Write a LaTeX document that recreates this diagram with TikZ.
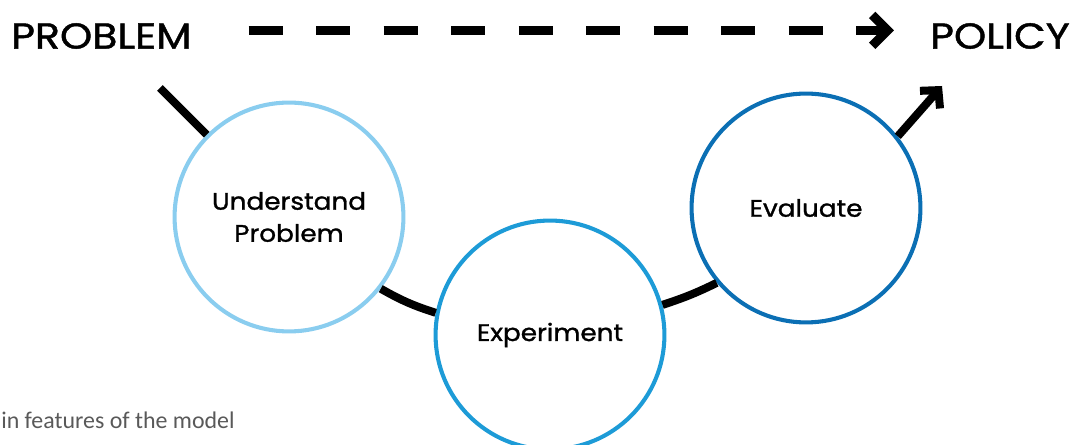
\documentclass[tikz,border=0pt]{standalone}
\usepackage{fontspec}
\setmainfont{Poppins}[FakeStretch=1.1, FakeBold=1.2]
\newfontfamily\headfont{Poppins}[FakeStretch=1.14, FakeBold=1.2]
\newfontfamily\notefont{Carlito}
\usetikzlibrary{arrows.meta}

\definecolor{paleblue}{HTML}{8ACDEF}
\definecolor{midblue}{HTML}{1D9BD7}
\definecolor{deepblue}{HTML}{0B6FB4}
\definecolor{notegray}{HTML}{595959}

\tikzset{
  stage/.style={circle, draw, line width=2.9pt, minimum size=5.72cm,
    inner sep=0pt, align=center, font=\fontsize{17}{22.8}\selectfont},
  heading/.style={inner sep=0pt, font=\headfont\fontsize{25.6}{30}\selectfont},
  link/.style={line width=5.7pt},
  flow/.style={line width=6.4pt, dash pattern=on 24.2pt off 23.8pt,
    -{Straight Barb[sharp, length=11pt, width=22pt]}}
}

\begin{document}
\begin{tikzpicture}[x=0.025cm, y=-0.025cm]
  \useasboundingbox (0,0) rectangle (1080,445);

  % headings
  \node[heading, anchor=west] (problem) at (11,36) {PROBLEM};
  \node[heading, anchor=east] (policy) at (1070,36) {POLICY};
  \draw[flow, shorten <=1.42cm, shorten >=0.9cm]
    ([yshift=0.14cm]problem.east) -- ([yshift=0.14cm]policy.west);

  % stages
  \node[stage, draw=paleblue] (understand) at (289,217) {Understand\\Problem};
  \node[stage, draw=midblue] (experiment) at (550,335) {Experiment};
  \node[stage, draw=deepblue] (evaluate) at (806,208) {Evaluate};

  \coordinate (start) at (160,88);
  \coordinate (goal) at (942,86);

  \draw[link] (start) -- (understand);
  \draw[link] (understand.-38) to[bend right=6] (experiment.169);
  \draw[link] (experiment.15) to[bend right=4] (evaluate.220);
  \draw[link, -{Straight Barb[sharp, length=9pt, width=19pt]}] (evaluate.38) -- (goal);

  \node[anchor=west, inner sep=0pt, text=notegray, font=\notefont\fontsize{17}{20}\selectfont] (note) at (1,420) {in features of the model};
\end{tikzpicture}
\end{document}
